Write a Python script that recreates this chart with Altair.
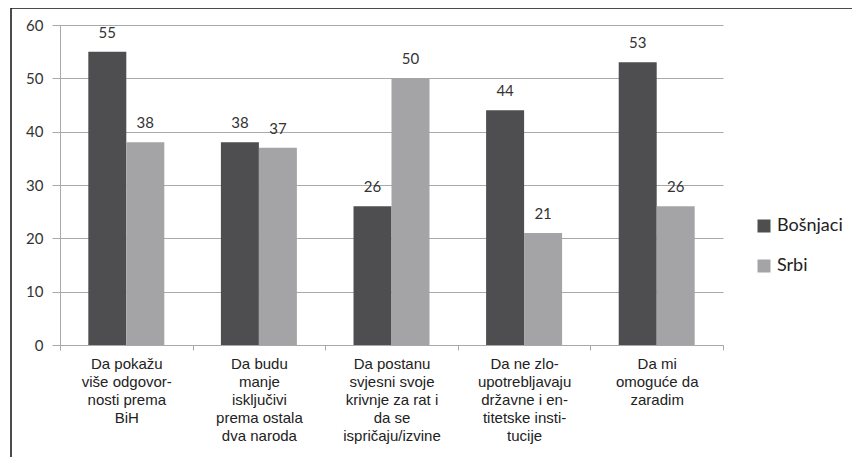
import altair as alt
import pandas as pd

categories = [
    "Da pokažu|više odgovor-|nosti prema|BiH",
    "Da budu|manje|isključivi|prema ostala|dva naroda",
    "Da postanu|svjesni svoje|krivnje za rat i|da se|ispričaju/izvine",
    "Da ne zlo-|upotrebljavaju|državne i en-|titetske insti-|tucije",
    "Da mi|omoguće da|zaradim",
]
groups = ["Bošnjaci", "Srbi"]
bosnjaci = [55, 38, 26, 44, 53]
srbi = [38, 37, 50, 21, 26]
colors = ["#4e4e50", "#a4a4a7"]

rows = []
for c, b, s in zip(categories, bosnjaci, srbi):
    rows.append({"cat": c, "grp": groups[0], "val": b})
    rows.append({"cat": c, "grp": groups[1], "val": s})
df = pd.DataFrame(rows)

grid = "#a9a9a9"

x = alt.X(
    "cat:N",
    sort=categories,
    title=None,
    scale=alt.Scale(paddingInner=0, paddingOuter=0),
    axis=alt.Axis(
        labelAngle=0,
        labelExpr="split(datum.label, '|')",
        labelFont="Liberation Sans",
        labelFontSize=15,
        labelColor="#222222",
        labelLineHeight=18,
        labelLimit=0,
        labelPadding=6,
        labelBaseline="top",
        tickBand="extent",
        tickSize=5,
        tickColor=grid,
        domainColor=grid,
        grid=False,
    ),
)
xo = alt.XOffset(
    "grp:N",
    sort=groups,
    scale=alt.Scale(paddingInner=0, paddingOuter=0.745),
)
y = alt.Y(
    "val:Q",
    title=None,
    scale=alt.Scale(domain=[0, 60], nice=False),
    axis=alt.Axis(
        values=[0, 10, 20, 30, 40, 50, 60],
        labelFont="Lato",
        labelFontSize=15,
        labelColor="#333333",
        labelPadding=9,
        tickSize=8,
        tickColor=grid,
        domainColor=grid,
        gridColor=grid,
        gridWidth=1,
    ),
)
color = alt.Color(
    "grp:N",
    sort=groups,
    scale=alt.Scale(domain=groups, range=colors),
    legend=alt.Legend(
        title=None,
        orient="none",
        legendX=695,
        legendY=192,
        symbolType="square",
        symbolSize=169,
        symbolStrokeWidth=0,
        symbolOpacity=1,
        labelFont="Lato",
        labelFontSize=18,
        labelColor="#222222",
        labelOffset=4,
        rowPadding=22,
        padding=0,
    ),
)

bars = alt.Chart(df).mark_bar(stroke=None).encode(x=x, xOffset=xo, y=y, color=color)
texts = alt.Chart(df).mark_text(
    baseline="bottom", dy=-11, font="Lato", fontSize=15, color="#333333"
).encode(x=alt.X("cat:N", sort=categories), xOffset=alt.XOffset("grp:N", sort=groups), y="val:Q", text="val:Q")

frame_data = alt.Data(values=[{"a": 1}])
frame_top = alt.Chart(frame_data).mark_rule(color="#111111", strokeWidth=1.5).encode(
    x=alt.value(-49), x2=alt.value(2000), y=alt.value(-17)
)
frame_left = alt.Chart(frame_data).mark_rule(color="#111111", strokeWidth=1.5).encode(
    x=alt.value(-49), y=alt.value(-17), y2=alt.value(2000)
)

chart = alt.layer(bars, texts, frame_top, frame_left).properties(
    width=663,
    height=320,
    autosize=alt.AutoSizeParams(type="none"),
    padding={"left": 52, "top": 17, "right": 129, "bottom": 112},
).configure_view(stroke=None).configure_axis(labelOverlap=False)

chart.save("out.html", embed_options={"renderer": "svg", "actions": False})
